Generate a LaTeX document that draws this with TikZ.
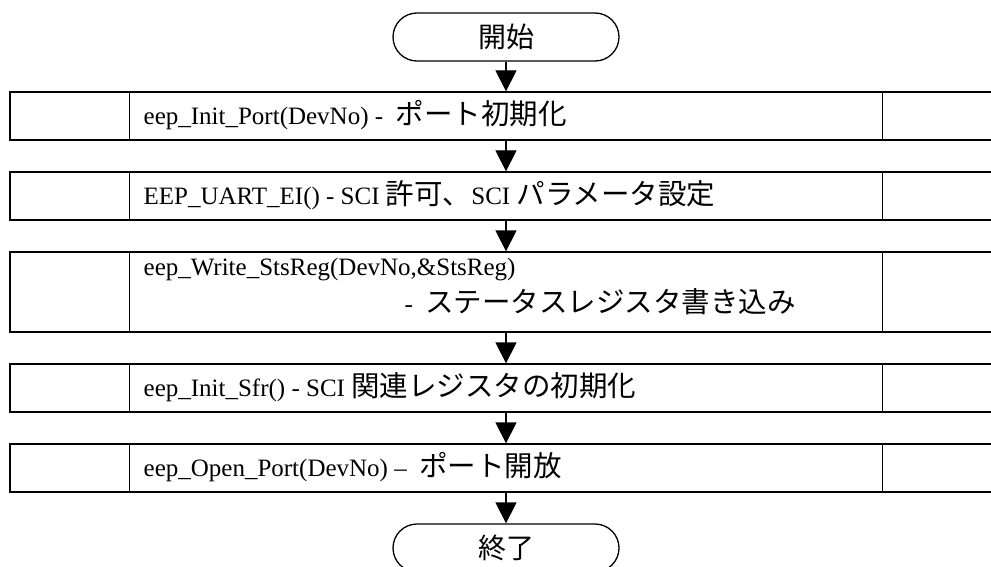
\documentclass[tikz,border=0pt]{standalone}
\usepackage{fontspec}
\setmainfont{Liberation Serif}
\newfontfamily\jp{Noto Sans CJK JP}
\newcommand{\jptext}[1]{{\jp\fontsize{28.5}{32}\selectfont #1}}
\usetikzlibrary{arrows.meta}
\begin{document}
\begin{tikzpicture}[x=1pt,y=-1pt,
  line width=1.3pt,
  term/.style={draw, rounded corners=24pt, minimum width=226pt, minimum height=48pt, inner sep=0pt, font=\jp\fontsize{28}{32}\selectfont},
  procbox/.style={draw, minimum width=992pt, inner sep=0pt},
  lbl/.style={anchor=west, inner sep=0pt, font=\fontsize{25}{30}\selectfont},
  flow/.style={-{Triangle[width=21pt,length=21pt]}, line width=1.3pt}
]
\useasboundingbox (0,0) rectangle (991,567);
\clip (0,0) rectangle (991,567);
\fill[white] (0,0) rectangle (991,567);

\node[term] (start) at (506,37) {開始};
\node[procbox, minimum height=48pt] (b1) at (506,116) {};
\node[procbox, minimum height=48pt] (b2) at (506,196) {};
\node[procbox, minimum height=80pt] (b3) at (506,292) {};
\node[procbox, minimum height=48pt] (b4) at (506,388) {};
\node[procbox, minimum height=48pt] (b5) at (506,468) {};
\node[term] (stop) at (506,548) {終了};

\foreach \b in {b1,b2,b3,b4,b5}{
  \draw ([xshift=120pt]\b.north west) -- ([xshift=120pt]\b.south west);
  \draw ([xshift=-120pt]\b.north east) -- ([xshift=-120pt]\b.south east);
}

\node[lbl] (t1) at (143,115) {eep\_Init\_Port(DevNo) -\ \ \jptext{ポート初期化}};
\node[lbl] (t2) at (143,195) {EEP\_UART\_EI() - SCI \jptext{許可、}SCI \jptext{パラメータ設定}};
\node[lbl] (t3a) at (143,270) {eep\_Write\_StsReg(DevNo,\&StsReg)};
\node[lbl] (t3b) at (404,302) {-\ \ \jptext{ステータスレジスタ書き込み}};
\node[lbl] (t4) at (143,387) {eep\_Init\_Sfr() - SCI \jptext{関連レジスタの初期化}};
\node[lbl] (t5) at (143,467) {eep\_Open\_Port(DevNo) --\ \ \jptext{ポート開放}};

\draw[flow] (start) -- (b1);
\draw[flow] (b1) -- (b2);
\draw[flow] (b2) -- (b3);
\draw[flow] (b3) -- (b4);
\draw[flow] (b4) -- (b5);
\draw[flow] (b5) -- (stop);
\end{tikzpicture}
\end{document}
